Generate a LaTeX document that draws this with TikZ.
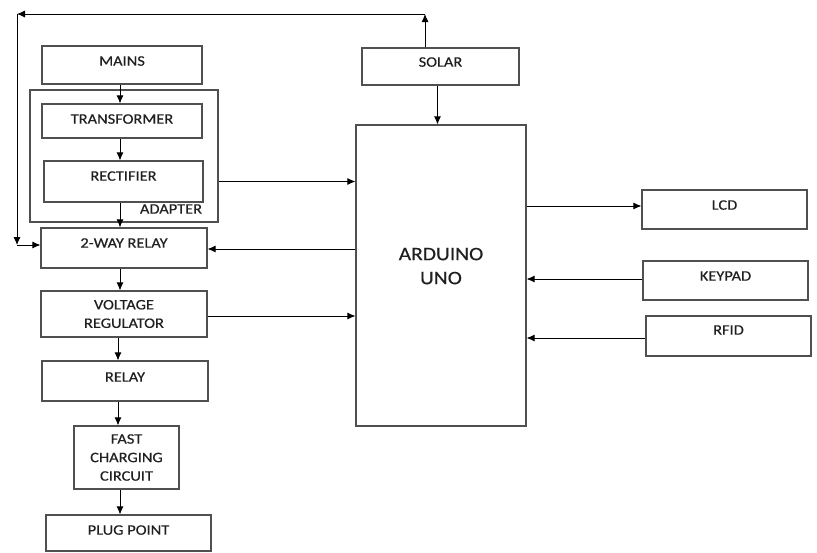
\documentclass[tikz,border=0pt]{standalone}
\usepackage{fontspec}
\setmainfont[FakeStretch=1.13,FakeBold=0.4]{Carlito}
\usetikzlibrary{arrows.meta}
\definecolor{boxline}{HTML}{505050}
\definecolor{txt}{HTML}{202020}
\begin{document}
\begin{tikzpicture}[x=1pt,y=-1pt,
  box/.style={draw=boxline,line width=1.1pt,rectangle,inner sep=0pt,
    text=txt,align=center,font=\fontsize{14.5}{18.5}\selectfont},
  bsize/.style 2 args={minimum width=#1 pt,minimum height=#2 pt},
  up/.style={text depth=#1 pt},
  lbl/.style={text=txt,inner sep=0pt,font=\fontsize{14.5}{18.5}\selectfont},
  arr/.style={draw=black,line width=0.9pt,-{Latex[length=8pt,width=7pt]}}]
\useasboundingbox[fill=white] (0,0) rectangle (817,552);

% left column
\node[box,bsize={160}{38},up=8] (mains) at (122,65) {MAINS};
\node[box,bsize={188}{132}] (adapter) at (124,156) {};
\node[box,bsize={160}{34},up=4] (transformer) at (122,121) {TRANSFORMER};
\node[box,bsize={159}{41},up=11] (rectifier) at (123.5,181.5) {RECTIFIER};
\node[lbl] (adlabel) at (171,209) {ADAPTER};
\node[box,bsize={166}{40},up=10] (relay2) at (124,248) {2-WAY RELAY};
\node[box,bsize={166}{46}] (vreg) at (124,314) {VOLTAGE\\REGULATOR};
\node[box,bsize={166}{40},up=8] (relay) at (125,381) {RELAY};
\node[box,bsize={105}{63}] (fcc) at (126.5,457.5) {FAST\\CHARGING\\CIRCUIT};
\node[box,bsize={165}{36},up=6] (plug) at (128.5,533) {PLUG POINT};

% centre
\node[box,bsize={157}{37},up=9] (solar) at (440.5,66.5) {SOLAR};
\node[box,bsize={170}{301},up=19,font=\fontsize{19}{24}\selectfont] (arduino) at (441,275.5) {ARDUINO\\UNO};

% right column
\node[box,bsize={165}{39},up=9] (lcd) at (724.5,209.5) {LCD};
\node[box,bsize={165}{39},up=9] (keypad) at (725.5,280.5) {KEYPAD};
\node[box,bsize={165}{40},up=12] (rfid) at (728.5,336) {RFID};

% helper coordinates
\coordinate (axis) at (120,0);
\coordinate (axisb) at (118,0);
\coordinate (tr) at (425,14);
\coordinate (tl) at (17,14);
\coordinate (bl) at (17,245);

% vertical power chain
\draw[arr] (mains.south -| axis) -- (transformer.north -| axis);
\draw[arr] (transformer.south -| axis) -- (rectifier.north -| axis);
\draw[arr] (rectifier.south -| axis) -- (relay2.north -| axis);
\draw[arr] (relay2.south -| axis) -- (vreg.north -| axis);
\draw[arr] (vreg.south -| axisb) -- (relay.north -| axisb);
\draw[arr] (relay.south -| axisb) -- (fcc.north -| axisb);
\draw[arr] (fcc.south -| axis) -- (plug.north -| axis);

% links with the Arduino
\draw[arr] (rectifier.east -| adapter.east) -- (rectifier.east -| arduino.west);
\draw[arr] ([yshift=-1pt]relay2.east -| arduino.west) -- ([yshift=-1pt]relay2.east);
\draw[arr] ([yshift=-2pt]vreg.east) -- ([yshift=-2pt]vreg.east -| arduino.west);
\draw[arr] ([xshift=-3pt]solar.south) -- ([xshift=-3pt]solar.south |- arduino.north);
\draw[arr] ([yshift=3.5pt]lcd.west -| arduino.east) -- ([yshift=3.5pt]lcd.west);
\draw[arr] ([yshift=1.5pt]keypad.west) -- ([yshift=1.5pt]keypad.west -| arduino.east);
\draw[arr] ([yshift=-2pt]rfid.west) -- ([yshift=-2pt]rfid.west -| arduino.east);

% solar feedback to 2-way relay
\draw[arr] (solar.north -| tr) -- (tr);
\draw[arr] (tr) -- (tl);
\draw[arr] (tl) -- (bl);
\draw[arr] (bl) -- (relay2.west |- bl);
\end{tikzpicture}
\end{document}
